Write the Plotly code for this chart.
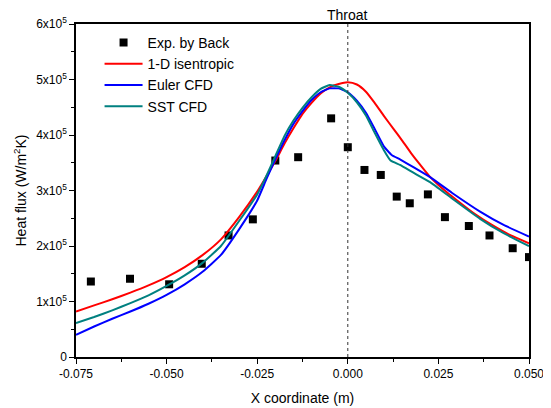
import plotly.graph_objects as go

# Experimental data (Back), heat flux in units of 1e5 W/m2K
exp_x = [-0.0709, -0.0601, -0.0493, -0.0403, -0.0329, -0.0262, -0.0200, -0.0137, -0.0046, 0.0000,
         0.0046, 0.0091, 0.0135, 0.0171, 0.0221, 0.0268, 0.0334, 0.0391, 0.0455, 0.0500]
exp_y = [1.36, 1.41, 1.31, 1.68, 2.19, 2.48, 3.54, 3.60, 4.30, 3.78,
         3.37, 3.28, 2.89, 2.77, 2.93, 2.52, 2.36, 2.19, 1.96, 1.80]

# 1-D isentropic
red_x = [-0.075, -0.070, -0.065, -0.060, -0.055, -0.050, -0.045, -0.040, -0.035, -0.030,
         -0.025, -0.0225, -0.020, -0.0175, -0.015, -0.0125, -0.010, -0.0075, -0.005, -0.0025,
         0.000, 0.0025, 0.005, 0.0075, 0.010, 0.0125, 0.015, 0.0175, 0.020, 0.0225,
         0.025, 0.0275, 0.030, 0.035, 0.040, 0.045, 0.050]
red_y = [0.82, 0.93, 1.04, 1.16, 1.29, 1.44, 1.62, 1.84, 2.12, 2.52,
         2.98, 3.25, 3.53, 3.84, 4.12, 4.38, 4.58, 4.75, 4.86, 4.92,
         4.95, 4.91, 4.78, 4.57, 4.34, 4.12, 3.90, 3.67, 3.46, 3.26,
         3.10, 2.96, 2.83, 2.58, 2.37, 2.19, 2.05]

# Euler CFD
blue_x = [-0.075, -0.070, -0.065, -0.060, -0.055, -0.050, -0.045, -0.040, -0.035, -0.030,
          -0.025, -0.0225, -0.020, -0.0175, -0.015, -0.0125, -0.010, -0.0075, -0.005, -0.0025,
          0.000, 0.0025, 0.005, 0.0075, 0.010, 0.0121, 0.0144, 0.0181, 0.0227, 0.0287,
          0.0365, 0.0430, 0.0500]
blue_y = [0.40, 0.55, 0.69, 0.82, 0.96, 1.12, 1.31, 1.54, 1.84, 2.30,
          2.82, 3.20, 3.56, 3.90, 4.20, 4.43, 4.63, 4.77, 4.84, 4.84,
          4.77, 4.62, 4.40, 4.10, 3.79, 3.64, 3.56, 3.42, 3.24, 2.96,
          2.62, 2.38, 2.17]

# SST CFD
teal_x = [-0.075, -0.070, -0.065, -0.060, -0.055, -0.050, -0.045, -0.040, -0.035, -0.030,
          -0.025, -0.0225, -0.020, -0.0175, -0.015, -0.0125, -0.010, -0.0075, -0.005, -0.0025,
          0.000, 0.0025, 0.005, 0.0075, 0.010, 0.0118, 0.0144, 0.0181, 0.0227, 0.0287,
          0.0365, 0.0430, 0.0500]
teal_y = [0.61, 0.72, 0.84, 0.97, 1.11, 1.28, 1.47, 1.70, 2.00, 2.45,
          2.93, 3.26, 3.62, 3.98, 4.26, 4.49, 4.68, 4.83, 4.90, 4.87,
          4.76, 4.59, 4.35, 4.03, 3.72, 3.54, 3.46, 3.32, 3.15, 2.86,
          2.49, 2.23, 2.00]

scale = 1e5
ytick_vals = [0, 1, 2, 3, 4, 5, 6]
ytick_text = ["0", "1x10<sup>5</sup>", "2x10<sup>5</sup>", "3x10<sup>5</sup>",
              "4x10<sup>5</sup>", "5x10<sup>5</sup>", "6x10<sup>5</sup>"]
xtick_vals = [-0.075, -0.05, -0.025, 0.0, 0.025, 0.05]
xtick_text = ["-0.075", "-0.050", "-0.025", "0.000", "0.025", "0.050"]

font = "Liberation Sans, Arial, sans-serif"

fig = go.Figure()
fig.add_trace(go.Scatter(x=exp_x, y=[v * scale for v in exp_y], mode="markers",
                         name="Exp. by Back",
                         marker=dict(symbol="square", size=8, color="black")))
fig.add_trace(go.Scatter(x=red_x, y=[v * scale for v in red_y], mode="lines",
                         name="1-D isentropic",
                         line=dict(color="#ff0000", width=2, shape="spline", smoothing=0.6)))
fig.add_trace(go.Scatter(x=blue_x, y=[v * scale for v in blue_y], mode="lines",
                         name="Euler CFD",
                         line=dict(color="#0000ff", width=2, shape="spline", smoothing=0.4)))
fig.add_trace(go.Scatter(x=teal_x, y=[v * scale for v in teal_y], mode="lines",
                         name="SST CFD",
                         line=dict(color="#008080", width=2, shape="spline", smoothing=0.4)))

# Throat line
fig.add_shape(type="line", xref="x", yref="paper", x0=0, x1=0, y0=0, y1=1,
              line=dict(color="#333333", width=1, dash="dot"))
fig.add_annotation(x=0, y=1, xref="x", yref="paper", text="Throat", showarrow=False,
                   yanchor="bottom", yshift=-1, font=dict(size=14, color="black", family=font))

# page body has an 8px margin, so the figure is offset by 8px in the window
fig.update_layout(
    width=543, height=400,
    margin=dict(l=68, r=22, t=16, b=51, autoexpand=False),
    paper_bgcolor="white", plot_bgcolor="white",
    font=dict(family=font, size=12, color="black"),
    showlegend=True,
    legend=dict(x=0.052, y=0.991, xanchor="left", yanchor="top", bgcolor="rgba(0,0,0,0)",
                font=dict(size=14, family=font), tracegroupgap=0, itemwidth=38),
    xaxis=dict(range=[-0.075, 0.05], tickvals=xtick_vals, ticktext=xtick_text, automargin=False,
               showline=True, linecolor="black", linewidth=1.5, mirror=True,
               ticks="outside", ticklen=5, tickcolor="black", showgrid=False, zeroline=False,
               minor=dict(dtick=0.0125, tick0=0, ticks="outside", ticklen=3, tickcolor="black"),
               title=dict(text="X coordinate (m)", font=dict(size=14), standoff=13),
               tickfont=dict(size=12)),
    yaxis=dict(range=[0, 6e5], tickvals=[v * scale for v in ytick_vals], ticktext=ytick_text,
               automargin=False,
               showline=True, linecolor="black", linewidth=1.5, mirror=True,
               ticks="outside", ticklen=5, tickcolor="black", showgrid=False, zeroline=False,
               minor=dict(dtick=0.5e5, tick0=0, ticks="outside", ticklen=3, tickcolor="black"),
               title=dict(text="Heat flux (W/m<sup>2</sup>K)", font=dict(size=14), standoff=6),
               tickfont=dict(size=12)),
)

fig.write_html("out.html")
